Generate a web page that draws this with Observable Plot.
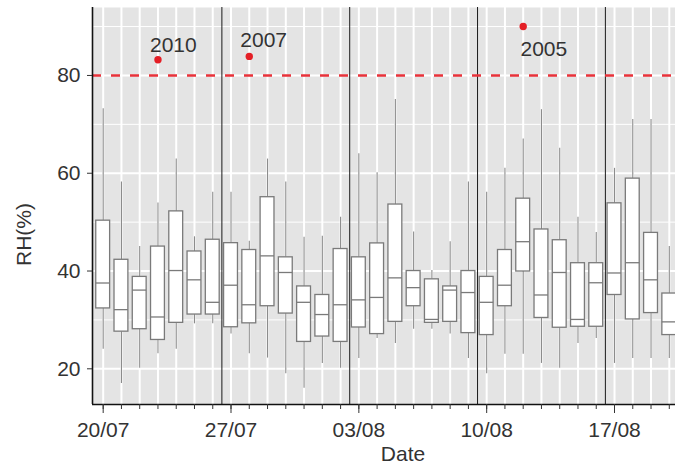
<!DOCTYPE html>
<html>
<head>
<meta charset="utf-8">
<script src="https://cdn.jsdelivr.net/npm/d3@7"></script>
<script src="https://cdn.jsdelivr.net/npm/@observablehq/plot@0.6"></script>
<style>
  html, body { margin: 0; padding: 0; background: #ffffff; }
  #chart svg { display: block; }
</style>
</head>
<body>
<div id="chart"></div>
<script>
// Categories: one box per day
const days = ["20/07","21/07","22/07","23/07","24/07","25/07","26/07","27/07","28/07","29/07","30/07","31/07",
              "01/08","02/08","03/08","04/08","05/08","06/08","07/08","08/08","09/08","10/08","11/08","12/08",
              "13/08","14/08","15/08","16/08","17/08","18/08","19/08","20/08"];
// Box statistics (RH %)
const whiskerLow  = [24.0,17.0,20.1,23.1,24.0,29.2,29.2,27.1,23.1,22.2,19.0,16.0,21.1,20.1,22.1,26.2,25.2,28.1,28.1,27.1,22.1,19.0,23.0,23.0,21.1,20.1,25.2,26.2,21.1,22.1,22.1,22.1];
const q1          = [32.35,27.6,28.1,25.9,29.4,31.1,31.1,28.5,29.3,32.8,31.3,25.5,26.6,25.5,28.45,27.1,29.6,32.8,29.4,29.6,27.3,26.9,32.8,39.9,30.4,28.4,28.6,28.6,35.1,30.1,31.4,26.9];
const median      = [37.55,32.1,36.1,30.6,40.1,38.2,33.6,37.1,33.1,43.1,39.7,33.6,31.1,33.1,34.1,34.6,38.6,36.6,30.1,36.1,35.6,33.6,37.1,46.0,35.1,39.7,30.1,37.6,39.6,41.7,38.2,29.6];
const q3          = [50.3,42.3,38.8,45.0,52.2,44.0,46.4,45.7,44.3,55.1,42.8,36.85,35.1,44.5,42.8,45.65,53.6,40.0,38.3,36.85,40.0,38.8,44.3,54.8,48.5,46.3,41.6,41.6,53.85,58.9,47.8,35.4];
const whiskerHigh = [73.2,58.2,45.0,53.9,62.9,47.0,56.1,56.1,46.1,62.9,58.2,46.9,47.1,51.0,64.0,60.1,75.1,48.0,40.1,46.0,58.2,56.1,61.0,67.0,73.0,65.1,51.0,47.9,61.0,71.0,71.0,45.0];
// Outliers
const outlierDay   = ["23/07","28/07","12/08"];
const outlierValue = [83.2, 83.9, 90.0];
const outlierYear  = ["2010","2007","2005"];
// Axis tick labels and threshold
const tickLabels = ["20/07","27/07","03/08","10/08","17/08"];
const yTicks = [20, 40, 60, 80];
const yMinor = [30, 50, 70, 90];
const threshold = 80;

const rows = days.map((d, i) => ({i, day: d, lo: whiskerLow[i], q1: q1[i], med: median[i], q3: q3[i], hi: whiskerHigh[i]}));
const outliers = outlierDay.map((d, k) => ({i: days.indexOf(d), v: outlierValue[k], year: outlierYear[k]}));
const tickIdx = tickLabels.map(t => days.indexOf(t));
const weekBreaks = tickIdx.slice(1).map(i => i - 0.5);
const half = 0.38;
const font = "'Liberation Sans', Arial, Helvetica, sans-serif";
const txt = "#333333";
const offsets = [[-8, -14.3], [-9, -16.3], [-2.7, 22.3]];

const chart = Plot.plot({
  width: 675,
  height: 473,
  marginLeft: 92,
  marginRight: 0,
  marginTop: 7,
  marginBottom: 69,
  style: {fontFamily: font, fontSize: "21px", color: txt, background: "white"},
  x: {domain: [-0.585, 31.34]},
  y: {domain: [12.7, 93.9]},
  marks: [
    Plot.frame({fill: "#e4e4e4", stroke: "none"}),
    Plot.ruleY(yMinor, {stroke: "white", strokeWidth: 1}),
    Plot.ruleY(yTicks, {stroke: "white", strokeWidth: 2}),
    Plot.ruleX(rows, {x: "i", stroke: "white", strokeWidth: 2}),
    Plot.ruleX(weekBreaks, {stroke: "#1a1a1a", strokeWidth: 1}),
    Plot.ruleX(rows, {x: "i", y1: "q3", y2: "hi", stroke: "#8c8c8c", strokeWidth: 1.1}),
    Plot.ruleX(rows, {x: "i", y1: "lo", y2: "q1", stroke: "#8c8c8c", strokeWidth: 1.1}),
    Plot.rect(rows, {x1: d => d.i - half, x2: d => d.i + half, y1: "q1", y2: "q3", fill: "white", stroke: "#7a7a7a", strokeWidth: 1.3}),
    Plot.ruleY(rows, {x1: d => d.i - half, x2: d => d.i + half, y: "med", stroke: "#7a7a7a", strokeWidth: 1.3}),
    Plot.ruleY([threshold], {stroke: "#e8323a", strokeWidth: 2.6, strokeDasharray: "9,10"}),
    Plot.dot(outliers, {x: "i", y: "v", r: 3.7, fill: "#e41f26", stroke: "none"}),
    ...outliers.map((o, k) => Plot.text([o], {x: "i", y: "v", text: "year", textAnchor: "start", dx: offsets[k][0], dy: offsets[k][1], fill: txt, fontSize: 21})),
    Plot.ruleX([-0.585], {stroke: "#111", strokeWidth: 1.6}),
    Plot.ruleY([12.7], {stroke: "#111", strokeWidth: 1.6}),
    Plot.axisY({ticks: yTicks, tickSize: 5, tickPadding: 7, label: null, stroke: "#333", fill: txt, fontSize: 21}),
    Plot.axisX({ticks: rows.map(d => d.i), tickSize: 5, tickFormat: () => "", label: null, stroke: "#333"}),
    Plot.axisX({ticks: tickIdx, tickSize: 9, tickPadding: 9, tickFormat: i => days[i], label: null, stroke: "#333", fill: txt, fontSize: 21}),
    Plot.text(["Date"], {frameAnchor: "bottom", dx: 19, dy: 56, fill: txt, fontSize: 21}),
    Plot.text(["RH(%)"], {frameAnchor: "left", dx: -68, dy: 60, rotate: -90, fill: txt, fontSize: 21})
  ]
});
document.getElementById("chart").appendChild(chart);
</script>
</body>
</html>
